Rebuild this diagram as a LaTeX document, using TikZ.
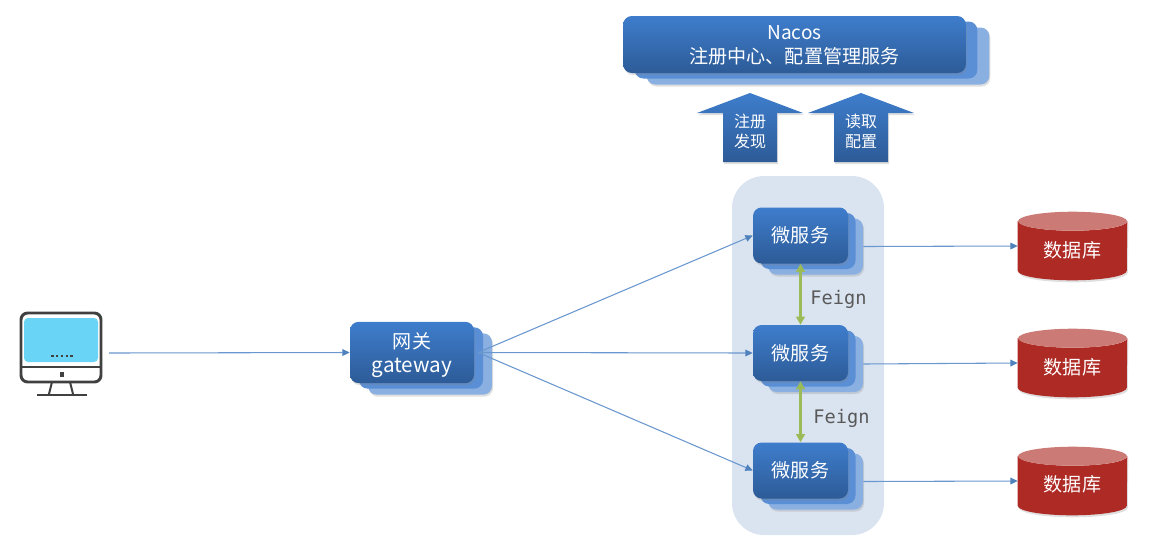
\documentclass[tikz,border=0pt]{standalone}
\usepackage{fontspec}
\setmainfont{Noto Sans CJK SC}
\newfontfamily\feignfont{DejaVu Sans Mono}
\usetikzlibrary{arrows.meta,shadows}
\definecolor{topblue}{HTML}{3E7DCC}
\definecolor{botblue}{HTML}{2D5B97}
\definecolor{midblue}{HTML}{5A8FD6}
\definecolor{backblue}{HTML}{8AB0E2}
\definecolor{panelblue}{HTML}{DAE4F1}
\definecolor{linkblue}{HTML}{6A97CE}
\definecolor{tipblue}{HTML}{4F81BD}
\definecolor{feigngreen}{HTML}{9BBB59}
\definecolor{dbred}{HTML}{AE2A25}
\definecolor{dbtop}{HTML}{CB7A75}
\definecolor{screenblue}{HTML}{6AD4F7}
\definecolor{iconline}{HTML}{404040}
\tikzset{
  softshadow/.style={drop shadow={shadow xshift=0.8pt,shadow yshift=-1.5pt,opacity=0.25}},
  frontbox/.style={rectangle,rounded corners=6.5pt,top color=topblue,bottom color=botblue,
                   text=white,align=center,inner sep=0pt,softshadow},
  midbox/.style={rectangle,rounded corners=6.5pt,fill=midblue,inner sep=0pt},
  backbox/.style={rectangle,rounded corners=6.5pt,fill=backblue,inner sep=0pt,softshadow},
  upflow/.style={top color=topblue,bottom color=botblue,softshadow},
  link/.style={draw=linkblue,line width=0.8pt,-{Triangle[length=5.5pt,width=5pt,color=tipblue]}},
  feignlink/.style={draw=feigngreen,line width=2pt,{Triangle[length=6pt,width=6.5pt]}-{Triangle[length=6pt,width=6.5pt]}},
  feignlabel/.style={text=black!65,font=\feignfont\fontsize{14}{16}\selectfont,inner sep=0pt},
  dbnode/.style={rectangle,minimum width=81.75pt,minimum height=51pt,inner sep=0pt},
  whitetext/.style={text=white,inner sep=0pt,align=center,font=\fontsize{14.3}{18}\selectfont},
  icon/.style={draw=iconline,line width=2.2pt}
}
% Drum body and lid over an empty node.
\newcommand{\dbdrum}[1]{
  \fill[dbred,softshadow] ([yshift=-7.1pt]#1.north west) -- ([yshift=7.1pt]#1.south west)
    arc[start angle=180,end angle=0,x radius=54.5,y radius=9.5] -- ([yshift=-7.1pt]#1.north east)
    arc[start angle=0,end angle=180,x radius=54.5,y radius=9.5] -- cycle;
  \fill[dbtop] ([yshift=-7.1pt]#1.north) ellipse [x radius=54.5,y radius=9.5];
}
\begin{document}
\begin{tikzpicture}[x=0.75pt,y=-0.75pt]
  \useasboundingbox (0,0) rectangle (1152,551);

  % Panel behind the services.
  \fill[panelblue,rounded corners=24pt] (732,176) rectangle (884,535);

  % Nacos stack.
  \node[backbox,minimum width=257pt,minimum height=42.75pt] (nacosback) at (818,56) {};
  \node[midbox,minimum width=257pt,minimum height=42.75pt] (nacosmid) at (806,50) {};
  \node[frontbox,minimum width=257pt,minimum height=42.75pt] (nacos) at (794.5,44.5) {};
  \node[whitetext] (nacostext) at (794.5,45.5) {Nacos\\注册中心、配置管理服务};

  % Up arrows.
  \shade[upflow] (750,93) -- (803,113) -- (777,113) -- (777,162) -- (723,162) -- (723,113) -- (697,113) -- cycle;
  \shade[upflow] (861,93) -- (914,113) -- (888,113) -- (888,162) -- (834,162) -- (834,113) -- (808,113) -- cycle;
  \node[whitetext,font=\fontsize{12}{15}\selectfont] (regnote) at (750,131) {注册\\发现};
  \node[whitetext,font=\fontsize{12}{15}\selectfont] (cfgnote) at (861,131) {读取\\配置};

  % Computer icon.
  \fill[screenblue,rounded corners=3pt] (24,318) rectangle (98,362);
  \draw[icon,rounded corners=5pt] (21,313) rectangle (101,382);
  \draw[icon] (21,367) -- (101,367);
  \draw[icon,line width=1.5pt] (49,394) -- (52,382);
  \draw[icon,line width=1.5pt] (73,394) -- (70,382);
  \draw[icon,line width=1.5pt] (37,394.5) -- (87,394.5);
  \fill[iconline] (60,372) rectangle (63.5,377);
  \draw[iconline,line width=2pt,dash pattern=on 1.8pt off 1.8pt] (51.2,356) -- (73,356);
  \coordinate (pcout) at (109,353);

  % Gateway stack.
  \node[backbox,minimum width=93pt,minimum height=46pt] (gwback) at (430,364) {};
  \node[midbox,minimum width=93pt,minimum height=46pt] (gwmid) at (421,358) {};
  \node[frontbox,minimum width=93pt,minimum height=46pt] (gw) at (412,352.5) {};
  \node[whitetext,font=\fontsize{15.5}{17.5}\selectfont] (gwtext) at (412,355) {{\fontsize{14.3}{17.5}\selectfont 网关}\\gateway};
  \coordinate (gwout) at (478,352.5);

  % Service stacks.
  \node[backbox,minimum width=71.25pt,minimum height=42pt] (svcaback) at (815.5,246.5) {};
  \node[midbox,minimum width=71.25pt,minimum height=42pt] (svcamid) at (808,241) {};
  \node[frontbox,minimum width=71.25pt,minimum height=42pt,font=\fontsize{14.3}{18}\selectfont] (svca) at (800.5,235.5) {微服务};
  \node[backbox,minimum width=71.25pt,minimum height=42pt] (svcbback) at (815.5,364) {};
  \node[midbox,minimum width=71.25pt,minimum height=42pt] (svcbmid) at (808,358.5) {};
  \node[frontbox,minimum width=71.25pt,minimum height=42pt,font=\fontsize{14.3}{18}\selectfont] (svcb) at (800.5,353) {微服务};
  \node[backbox,minimum width=71.25pt,minimum height=42pt] (svccback) at (815.5,481.5) {};
  \node[midbox,minimum width=71.25pt,minimum height=42pt] (svccmid) at (808,476) {};
  \node[frontbox,minimum width=71.25pt,minimum height=42pt,font=\fontsize{14.3}{18}\selectfont] (svcc) at (800.5,470.5) {微服务};

  % Databases.
  \node[dbnode] (dba) at (1072.5,246) {};
  \node[dbnode] (dbb) at (1072.5,363) {};
  \node[dbnode] (dbc) at (1072.5,481) {};
  \dbdrum{dba}
  \dbdrum{dbb}
  \dbdrum{dbc}
  \node[whitetext] (dbatext) at (1072.5,250.5) {数据库};
  \node[whitetext] (dbbtext) at (1072.5,367.5) {数据库};
  \node[whitetext] (dbctext) at (1072.5,484.5) {数据库};

  % Links.
  \draw[link] (pcout) -- (gw.west);
  \draw[link] (gwout) -- (svca.west);
  \draw[link] (gwout) -- (svcb.west);
  \draw[link] (gwout) -- (svcc.west);
  \draw[link] (svcaback.east) -- (dba.west);
  \draw[link] (svcbback.east) -- (dbb.west);
  \draw[link] (svccback.east) -- (dbc.west);

  % Feign calls.
  \draw[feignlink] (svca.south) -- (svcb.north);
  \draw[feignlink] (svcb.south) -- (svcc.north);
  \node[feignlabel] (feigna) at (838.5,299.5) {Feign};
  \node[feignlabel] (feignb) at (841.5,418.5) {Feign};
\end{tikzpicture}
\end{document}
